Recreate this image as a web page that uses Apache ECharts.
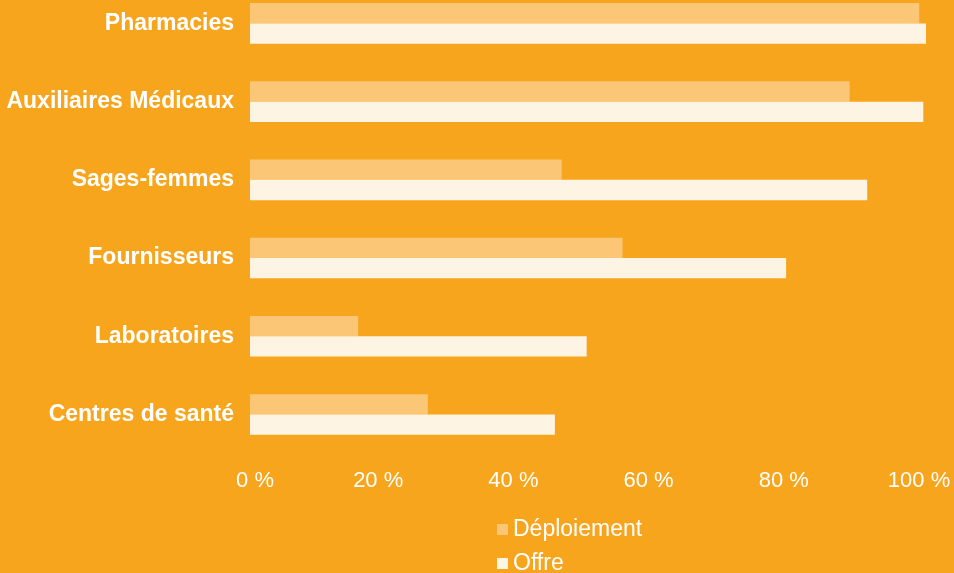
<!DOCTYPE html>
<html>
<head>
<meta charset="utf-8">
<script src="https://cdn.jsdelivr.net/npm/echarts@6/dist/echarts.min.js"></script>
<style>
  html, body { margin: 0; padding: 0; background: #F8A51E; }
  #chart { width: 954px; height: 573px; }
</style>
</head>
<body>
<div id="chart"></div>
<script>
// catégories (du haut vers le bas)
const categories = ["Pharmacies", "Auxiliaires Médicaux", "Sages-femmes", "Fournisseurs", "Laboratoires", "Centres de santé"];
// valeurs en %
const deploiement = [99.0, 88.7, 46.1, 55.1, 16.0, 26.3];
const offre = [100, 99.6, 91.3, 79.3, 49.8, 45.1];
const seriesNames = ["Déploiement", "Offre"];
const xTicks = [0, 20, 40, 60, 80, 100];

const font = "Arial, 'Liberation Sans', sans-serif";
const chart = echarts.init(document.getElementById("chart"));

const option = {
  backgroundColor: "#F8A51E",
  animation: false,
  grid: {
    left: 250,
    right: 28,
    top: -15.7,
    bottom: 119.4,
    containLabel: false,
    outerBoundsMode: "none",
  },
  legend: {
    orient: "vertical",
    left: 497,
    bottom: -2,
    padding: 0,
    itemWidth: 11,
    itemHeight: 11,
    itemGap: 11,
    icon: "rect",
    data: seriesNames,
    textStyle: {
      color: "#ffffff",
      fontSize: 23,
      lineHeight: 22,
      fontFamily: font,
    },
  },
  xAxis: {
    type: "value",
    min: xTicks[0],
    max: xTicks[xTicks.length - 1],
    interval: 20,
    splitLine: { show: false },
    axisLine: { show: false },
    axisTick: { show: false },
    axisLabel: {
      color: "#ffffff",
      fontSize: 22,
      fontFamily: font,
      margin: 16,
      padding: [0, 14, 0, 0],
      formatter: function (v) {
        if (v === 0) return "{z|0 %}";
        return v + " %";
      },
      rich: {
        z: {
          color: "#ffffff",
          fontSize: 22,
          fontFamily: font,
          padding: [0, 0, 0, 24],
        },
      },
    },
  },
  yAxis: {
    type: "category",
    data: categories,
    inverse: true,
    axisLine: { show: false },
    axisTick: { show: false },
    axisLabel: {
      color: "#ffffff",
      fontSize: 23,
      fontWeight: "bold",
      fontFamily: font,
      margin: 16,
    },
  },
  series: [
    {
      name: seriesNames[0],
      type: "bar",
      data: deploiement,
      barWidth: 20.3,
      barGap: "0%",
      itemStyle: { color: "#FBC776" },
    },
    {
      name: seriesNames[1],
      type: "bar",
      data: offre,
      barWidth: 20.3,
      barGap: "0%",
      itemStyle: { color: "#FEF4E4" },
    },
  ],
};

chart.setOption(option);
</script>
</body>
</html>
